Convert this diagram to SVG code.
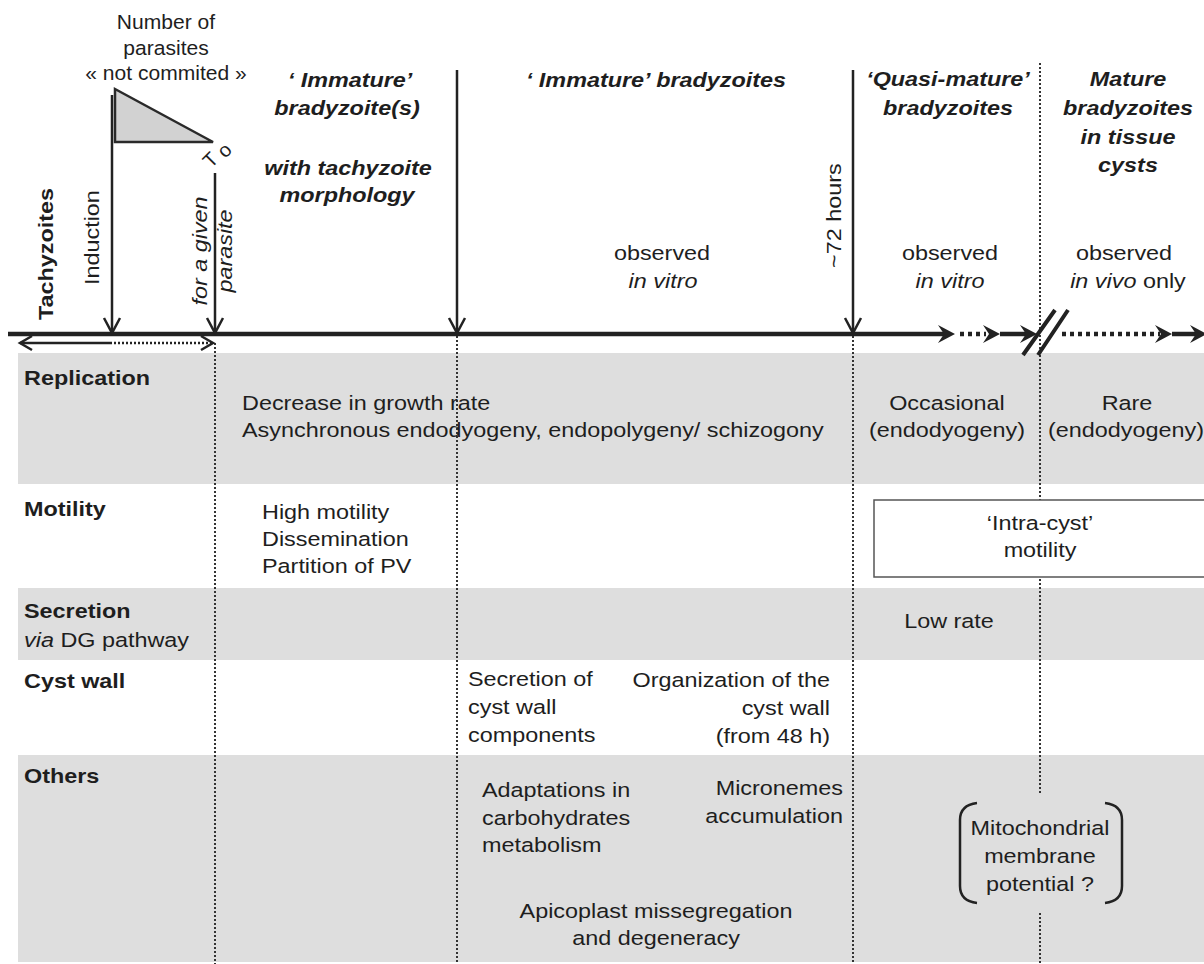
<svg xmlns="http://www.w3.org/2000/svg" xmlns:xlink="http://www.w3.org/1999/xlink" width="1204" height="964" viewBox="0 0 1204 964">
<style>
.t{font-family:"Liberation Sans",Arial,Helvetica,sans-serif;font-size:19.5px;fill:#1e1e1e}
.b{font-weight:bold}
.i{font-style:italic}
.bi{font-weight:bold;font-style:italic}
.m{text-anchor:middle}
.e{text-anchor:end}
.band{fill:#dedede}
.ln{stroke:#222;stroke-width:2.5;fill:none}
.tl{stroke:#222;stroke-width:4.5;fill:none}
.tld{stroke:#222;stroke-width:4.5;fill:none;stroke-dasharray:4 4}
.dot{stroke:#333;stroke-width:2;fill:none;stroke-dasharray:2 2}
.ah{fill:#222}
.vh{stroke:#222;stroke-width:2.5;fill:none}
</style>
<defs>
<path id="ah" d="M-17,-9 L0,0 L-17,9 L-11,0 Z"/>
<path id="vh" d="M-8,-15 L0,0 L8,-15"/>
<path id="hh" d="M-12,-7 L0,0 L-12,7"/>
</defs>
<rect width="1204" height="964" fill="#fff"/>

<g id="bands">
<rect class="band" x="18" y="353" width="1186" height="131"/>
<rect class="band" x="18" y="588" width="1186" height="72"/>
<rect class="band" x="18" y="755" width="1186" height="207"/>
</g>

<g id="connectors">
<path class="dot" d="M215,343 V964"/>
<path class="dot" d="M457,336 V964"/>
<path class="dot" d="M853,336 V964"/>
<path class="dot" d="M1040,63 V793 M1040,913 V964"/>
<path class="tl" d="M8,334 H945"/>
<use href="#ah" class="ah" x="955" y="334"/>
<path class="tld" d="M960,334 H986"/>
<use href="#ah" class="ah" x="1000" y="334"/>
<path class="tl" d="M1000,334 H1030"/>
<use href="#ah" class="ah" x="1037" y="334"/>
<path class="tl" d="M1023,355 L1055,310 M1038,355 L1068,310" style="stroke-width:4"/>
<path class="tld" d="M1062,334 H1160"/>
<use href="#ah" class="ah" x="1172" y="334"/>
<path class="tl" d="M1172,334 H1200"/>
<use href="#ah" class="ah" x="1207" y="334"/>
<path class="ln" d="M112,95 V333"/>
<use href="#vh" class="vh" x="112" y="333"/>
<path class="ln" d="M215,173 V333"/>
<use href="#vh" class="vh" x="215" y="333"/>
<path class="ln" d="M457,70 V333"/>
<use href="#vh" class="vh" x="457" y="333"/>
<path class="ln" d="M853,70 V333"/>
<use href="#vh" class="vh" x="853" y="333"/>
<path class="ln" d="M20,343 H110" style="stroke-width:2.5"/>
<path class="ln" d="M110,343 H211" style="stroke-width:2.5;stroke-dasharray:2 2"/>
<use href="#hh" class="vh" transform="translate(20,343) rotate(180)" style="stroke-width:2.5"/>
<use href="#hh" class="vh" x="213" y="343" style="stroke-width:2.5"/>
</g>

<g id="commitment">
<text class="t m" transform="translate(166,29) scale(1.08,1)">Number of</text>
<text class="t m" transform="translate(166,55) scale(1.08,1)">parasites</text>
<text class="t m" transform="translate(166,80) scale(1.08,1)">« not commited »</text>
<path d="M115,89 L115,142 L213,142 Z" fill="#d2d2d2" stroke="#2a2a2a" stroke-width="2.5" stroke-linejoin="miter"/>
<text class="t" style="font-size:20px" transform="translate(211,169) rotate(-45)">T<tspan dx="7" dy="3">o</tspan></text>
</g>

<g id="tachyzoites">
<text class="t b" transform="translate(53,320) rotate(-90) scale(1.2,1)">Tachyzoites</text>
</g>
<g id="induction">
<text class="t" transform="translate(99,285) rotate(-90) scale(1.2,1)">Induction</text>
</g>
<g id="given-parasite">
<text class="t i m" transform="translate(207,251) rotate(-90) scale(1.2,1)">for a given<tspan x="0" dy="25">parasite</tspan></text>
</g>

<g id="phase-immature-1">
<text class="t bi m" transform="translate(350,87) scale(1.2,1)">‘ Immature’</text>
<text class="t bi m" transform="translate(347,115) scale(1.2,1)">bradyzoite(s)</text>
<text class="t bi m" transform="translate(348,175) scale(1.2,1)">with tachyzoite</text>
<text class="t bi m" transform="translate(347,202) scale(1.2,1)">morphology</text>
</g>

<g id="phase-immature-2">
<text class="t bi m" transform="translate(656,87) scale(1.2,1)">‘ Immature’ bradyzoites</text>
<text class="t m" transform="translate(662,260) scale(1.2,1)">observed</text>
<text class="t i m" transform="translate(663,288) scale(1.2,1)">in vitro</text>
<text class="t" transform="translate(841,268) rotate(-90) scale(1.2,1)">~72 hours</text>
</g>

<g id="phase-quasi">
<text class="t bi m" transform="translate(948,86) scale(1.2,1)">‘Quasi-mature’</text>
<text class="t bi m" transform="translate(948,115) scale(1.2,1)">bradyzoites</text>
<text class="t m" transform="translate(950,260) scale(1.2,1)">observed</text>
<text class="t i m" transform="translate(950,288) scale(1.2,1)">in vitro</text>
</g>

<g id="phase-mature">
<text class="t bi m" transform="translate(1128,86) scale(1.2,1)">Mature</text>
<text class="t bi m" transform="translate(1128,115) scale(1.2,1)">bradyzoites</text>
<text class="t bi m" transform="translate(1128,144) scale(1.2,1)">in tissue</text>
<text class="t bi m" transform="translate(1128,172) scale(1.2,1)">cysts</text>
<text class="t m" transform="translate(1124,260) scale(1.2,1)">observed</text>
<text class="t m" transform="translate(1128,288) scale(1.2,1)"><tspan class="i">in vivo</tspan> only</text>
</g>

<g id="row-replication">
<text class="t b" transform="translate(24,385) scale(1.2,1)">Replication</text>
<text class="t" transform="translate(242,410) scale(1.2,1)">Decrease in growth rate</text>
<text class="t" transform="translate(242,437) scale(1.2,1)">Asynchronous endodyogeny, endopolygeny/ schizogony</text>
<text class="t m" transform="translate(947,410) scale(1.2,1)">Occasional</text>
<text class="t m" transform="translate(947,437) scale(1.2,1)">(endodyogeny)</text>
<text class="t m" transform="translate(1127,410) scale(1.2,1)">Rare</text>
<text class="t m" transform="translate(1126,437) scale(1.2,1)">(endodyogeny)</text>
</g>

<g id="row-motility">
<text class="t b" transform="translate(24,516) scale(1.2,1)">Motility</text>
<text class="t" transform="translate(262,519) scale(1.2,1)">High motility</text>
<text class="t" transform="translate(262,546) scale(1.2,1)">Dissemination</text>
<text class="t" transform="translate(262,573) scale(1.2,1)">Partition of PV</text>
<rect x="874" y="500" width="340" height="77" fill="#fff" stroke="#555" stroke-width="1.5"/>
<text class="t m" transform="translate(1040,530) scale(1.2,1)">‘Intra-cyst’</text>
<text class="t m" transform="translate(1040,557) scale(1.2,1)">motility</text>
</g>

<g id="row-secretion">
<text class="t b" transform="translate(24,618) scale(1.2,1)">Secretion</text>
<text class="t" transform="translate(24,647) scale(1.2,1)"><tspan class="i">via</tspan> DG pathway</text>
<text class="t m" transform="translate(949,628) scale(1.2,1)">Low rate</text>
</g>

<g id="row-cystwall">
<text class="t b" transform="translate(24,688) scale(1.2,1)">Cyst wall</text>
<text class="t" transform="translate(468,686) scale(1.2,1)">Secretion of</text>
<text class="t" transform="translate(468,714) scale(1.2,1)">cyst wall</text>
<text class="t" transform="translate(468,742) scale(1.2,1)">components</text>
<text class="t e" transform="translate(830,687) scale(1.2,1)">Organization of the</text>
<text class="t e" transform="translate(830,715) scale(1.2,1)">cyst wall</text>
<text class="t e" transform="translate(830,743) scale(1.2,1)">(from 48 h)</text>
</g>

<g id="row-others">
<text class="t b" transform="translate(24,783) scale(1.2,1)">Others</text>
<text class="t" transform="translate(482,797) scale(1.2,1)">Adaptations in</text>
<text class="t" transform="translate(482,825) scale(1.2,1)">carbohydrates</text>
<text class="t" transform="translate(482,852) scale(1.2,1)">metabolism</text>
<text class="t e" transform="translate(843,795) scale(1.2,1)">Micronemes</text>
<text class="t e" transform="translate(843,823) scale(1.2,1)">accumulation</text>
<text class="t m" transform="translate(656,918) scale(1.2,1)">Apicoplast missegregation</text>
<text class="t m" transform="translate(656,945) scale(1.2,1)">and degeneracy</text>
<path class="ln" d="M977,803 Q960,805 960,820 V886 Q960,901 977,903 M1105,803 Q1122,805 1122,820 V886 Q1122,901 1105,903"/>
<text class="t m" transform="translate(1040,835) scale(1.2,1)">Mitochondrial</text>
<text class="t m" transform="translate(1040,863) scale(1.2,1)">membrane</text>
<text class="t m" transform="translate(1040,891) scale(1.2,1)">potential ?</text>
</g>
</svg>
